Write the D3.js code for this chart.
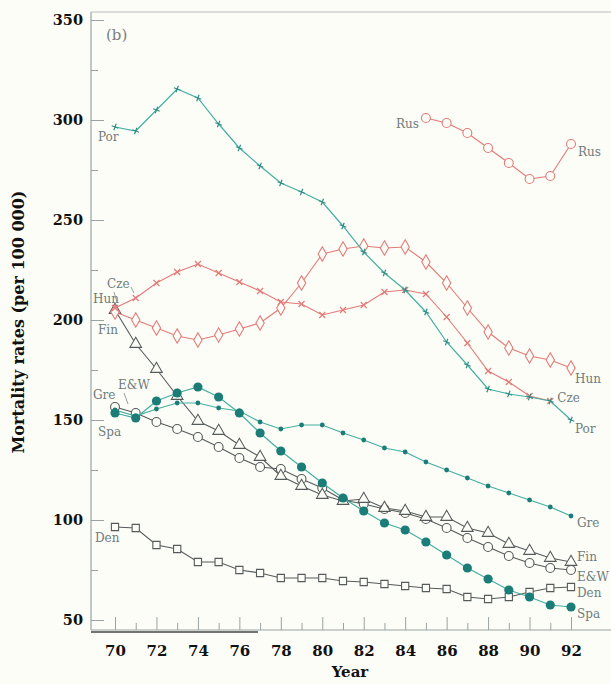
<!DOCTYPE html>
<html>
<head>
<meta charset="utf-8">
<script src="https://cdn.jsdelivr.net/npm/d3@7"></script>
<style>
  html, body { margin: 0; padding: 0; background: #fdfdf7; }
  svg { display: block; }
</style>
</head>
<body>
<svg id="chart" width="611" height="684"></svg>
<script>
// Years 1970–1992 (two-digit labels)
const years = d3.range(70, 93);
const yTicks = [50, 100, 150, 200, 250, 300, 350];
const yMinorTicks = [75, 125, 175, 225, 275, 325];
const xTicks = [70, 72, 74, 76, 78, 80, 82, 84, 86, 88, 90, 92];
const xMinorTicks = [71, 73, 75, 77, 79, 81, 83, 85, 87, 89, 91];

// Mortality rates (per 100 000), one value per year from 70
const por = [296.5, 294.5, 305, 315.5, 311, 298, 286, 277, 268.5, 264, 259, 247, 234, 223.5, 215, 204, 189, 177.5, 165.5, 163, 161.5, 159.5, 150];
const cze = [206, 211, 218.5, 224, 228, 223.5, 219, 214.5, 209, 208, 202.5, 205, 207.5, 214, 215, 213, 201.5, 188.5, 174.5, 169, 162, 159.5];
const hun = [204, 200, 196, 192, 190, 192.5, 195.5, 198.5, 206, 218.5, 233, 235.5, 237, 236, 236.5, 229, 218.5, 206, 194, 186, 182, 180, 176];
const fin = [205, 188, 175.5, 162, 149.5, 144.5, 137.5, 131.5, 122, 117, 112.5, 109.5, 110.5, 106, 104.5, 101.5, 101.5, 96, 93.5, 88, 84.5, 81, 79];
const enw = [156.5, 153.5, 149, 145.5, 141.5, 136.5, 131, 126.5, 125.5, 120.5, 116, 110, 108, 105.5, 103.5, 100.5, 96, 91, 86.5, 82, 78.5, 76, 75];
const gre = [155, 152, 155.5, 158.5, 158.5, 156, 154.5, 149, 145.5, 147.5, 147.5, 143.5, 140, 136, 134, 129, 125, 121, 117, 113.5, 110, 106.5, 102];
const spa = [153.5, 151, 159.5, 163.5, 166.5, 161.5, 153.5, 143.5, 134.5, 126.5, 118.5, 111, 104.5, 98.5, 95, 89, 82.5, 76, 70.5, 65, 61.5, 57.5, 56.5];
const den = [96.5, 96, 87.5, 85.5, 79, 79, 75, 73.5, 71, 71, 71, 69.5, 69, 68, 67, 66, 65.5, 61.5, 60.5, 61.5, 64, 66, 66.5];
// Russia is available from 85 onwards
const rusYears = [85, 86, 87, 88, 89, 90, 91, 92];
const rus = [301, 298.5, 293.5, 286, 278.5, 270.5, 272, 288];

const svg = d3.select("#chart");
const x = d3.scaleLinear().domain([70, 92]).range([115, 571]);
const y = d3.scaleLinear().domain([50, 350]).range([620, 20]);

const serif = "'DejaVu Serif', serif";
const axisGray = "#9aa3a3";
const frameLeft = 91, frameRight = 611, frameTop = 12, frameBottom = 630;

// Frame: left axis, top rule, baseline
const frame = svg.append("g");
frame.append("line").attr("x1", frameLeft).attr("x2", frameLeft)
  .attr("y1", frameTop).attr("y2", frameBottom)
  .attr("stroke", axisGray).attr("stroke-width", 1.2);
frame.append("line").attr("x1", frameLeft).attr("x2", frameRight)
  .attr("y1", frameTop).attr("y2", frameTop)
  .attr("stroke", "#b8bcbc").attr("stroke-width", 1);
frame.append("line").attr("x1", frameLeft).attr("x2", frameRight)
  .attr("y1", frameBottom).attr("y2", frameBottom)
  .attr("stroke", axisGray).attr("stroke-width", 1.2);
frame.append("line").attr("x1", frameLeft).attr("x2", 258)
  .attr("y1", frameBottom + 2).attr("y2", frameBottom + 2)
  .attr("stroke", "#444").attr("stroke-width", 1.6);

// Y axis (ticks point inward)
const yAxis = svg.append("g").attr("transform", `translate(${frameLeft},0)`)
  .call(d3.axisLeft(y).tickValues(yTicks).tickSize(-13).tickPadding(8));
yAxis.select(".domain").remove();
yAxis.selectAll(".tick line").attr("stroke", axisGray);
yAxis.selectAll("text").attr("font-family", serif).attr("font-weight", "bold")
  .attr("font-size", 14.5).attr("fill", "#111");
const yMinor = svg.append("g").attr("transform", `translate(${frameLeft},0)`)
  .call(d3.axisLeft(y).tickValues(yMinorTicks).tickSize(-7).tickFormat(""));
yMinor.select(".domain").remove();
yMinor.selectAll(".tick line").attr("stroke", axisGray);

// X axis (ticks point upward)
const xAxis = svg.append("g").attr("transform", `translate(0,${frameBottom})`)
  .call(d3.axisBottom(x).tickValues(xTicks).tickSize(-13).tickPadding(15));
xAxis.select(".domain").remove();
xAxis.selectAll(".tick line").attr("stroke", axisGray);
xAxis.selectAll("text").attr("font-family", serif).attr("font-weight", "bold")
  .attr("font-size", 15).attr("fill", "#111");
const xMinor = svg.append("g").attr("transform", `translate(0,${frameBottom})`)
  .call(d3.axisBottom(x).tickValues(xMinorTicks).tickSize(-7).tickFormat(""));
xMinor.select(".domain").remove();
xMinor.selectAll(".tick line").attr("stroke", axisGray);

// Axis titles
svg.append("text").attr("x", 350).attr("y", 677).attr("text-anchor", "middle")
  .attr("font-family", serif).attr("font-weight", "bold").attr("font-size", 15)
  .attr("fill", "#111").text("Year");
svg.append("text").attr("transform", "translate(24,322) rotate(-90)")
  .attr("text-anchor", "middle").attr("font-family", serif).attr("font-weight", "bold")
  .attr("font-size", 16).attr("fill", "#111").text("Mortality rates (per 100 000)");

svg.append("text").attr("x", 106).attr("y", 40)
  .attr("font-family", serif).attr("font-size", 15).attr("fill", "#7a8080").text("(b)");

// Colours
const teal = "#45aea3", tealDark = "#1c7d78", red = "#e27a78", gray = "#555b5b", label = "#6f7b7b";

const line = d3.line().x(d => x(d[0])).y(d => y(d[1]));
const pairs = (vals, yrs) => vals.map((v, i) => [(yrs || years)[i], v]);

function drawSeries(vals, yrs, color, width, marker) {
  const data = pairs(vals, yrs);
  const g = svg.append("g");
  g.append("path").datum(data).attr("d", line)
    .attr("fill", "none").attr("stroke", color).attr("stroke-width", width);
  const m = g.selectAll("g.m").data(data).join("g")
    .attr("transform", d => `translate(${x(d[0])},${y(d[1])})`);
  marker(m);
}

const crossPath = (s) => `M${-s},0L${s},0M0,${-s}L0,${s}`;
const timesPath = (s) => `M${-s},${-s}L${s},${s}M${-s},${s}L${s},${-s}`;

const plusMarker = (color) => (m) => m.append("path").attr("d", crossPath(3.5))
  .attr("transform", "rotate(20)").attr("stroke", color).attr("stroke-width", 1.2).attr("fill", "none");
const timesMarker = (color) => (m) => m.append("path").attr("d", timesPath(3))
  .attr("stroke", color).attr("stroke-width", 1.2).attr("fill", "none");
const openSymbol = (type, size, color) => (m) => m.append("path")
  .attr("d", d3.symbol().type(type).size(size)())
  .attr("fill", "#fdfdf7").attr("stroke", color).attr("stroke-width", 1.1);
const filledCircle = (r, color) => (m) => m.append("circle").attr("r", r).attr("fill", color);

// Lower group first so the upper lines sit on top
drawSeries(den, null, gray, 1.1, openSymbol(d3.symbolSquare, 52, gray));
drawSeries(enw, null, gray, 1.1, openSymbol(d3.symbolCircle, 62, gray));
drawSeries(fin, null, gray, 1.1, openSymbol(d3.symbolTriangle, 58, gray));
drawSeries(gre, null, teal, 1.2, filledCircle(2.4, tealDark));
drawSeries(spa, null, teal, 1.2, filledCircle(4.6, tealDark));
drawSeries(hun, null, red, 1.1, openSymbol(d3.symbolDiamond, 60, red));
drawSeries(cze, years.slice(0, cze.length), red, 1.1, timesMarker(red));
drawSeries(por, null, teal, 1.2, plusMarker("#2f8d85"));
drawSeries(rus, rusYears, red, 1.1, openSymbol(d3.symbolCircle, 62, red));

// Series labels
const labels = [
  ["Por", x(70) - 17, y(por[0]) + 14],
  ["Cze", x(70) - 8, y(cze[0]) - 20],
  ["Hun", x(70) - 22, y(hun[0]) - 9],
  ["Fin", x(70) - 17, y(fin[0]) + 24],
  ["E&W", x(70) + 3, y(enw[0]) - 18],
  ["Gre", x(70) - 22, y(gre[0]) - 11],
  ["Spa", x(70) - 17, y(spa[0]) + 23],
  ["Den", x(70) - 20, y(den[0]) + 15],
  ["Rus", x(85) - 30, y(rus[0]) + 10],
  ["Rus", x(92) + 7, y(rus[7]) + 12],
  ["Hun", x(92) + 4, y(hun[22]) + 15],
  ["Cze", x(91) + 7, y(cze[21]) + 1],
  ["Por", x(92) + 4, y(por[22]) + 13],
  ["Gre", x(92) + 6, y(gre[22]) + 11],
  ["Fin", x(92) + 6, y(fin[22]) - 1],
  ["E&W", x(92) + 6, y(enw[22]) + 11],
  ["Den", x(92) + 6, y(den[22]) + 10],
  ["Spa", x(92) + 6, y(spa[22]) + 11]
];
svg.append("g").selectAll("text").data(labels).join("text")
  .attr("x", d => d[1]).attr("y", d => d[2])
  .attr("font-family", serif).attr("font-size", 12).attr("fill", label)
  .text(d => d[0]);

// Short leader strokes beside the left-hand labels
const leaders = [
  [131, 287, 134, 293],
  [114, 292, 117, 302],
  [124, 393, 128, 404]
];
svg.append("g").selectAll("line").data(leaders).join("line")
  .attr("x1", d => d[0]).attr("y1", d => d[1]).attr("x2", d => d[2]).attr("y2", d => d[3])
  .attr("stroke", "#8a9494").attr("stroke-width", 0.9);
</script>
</body>
</html>
